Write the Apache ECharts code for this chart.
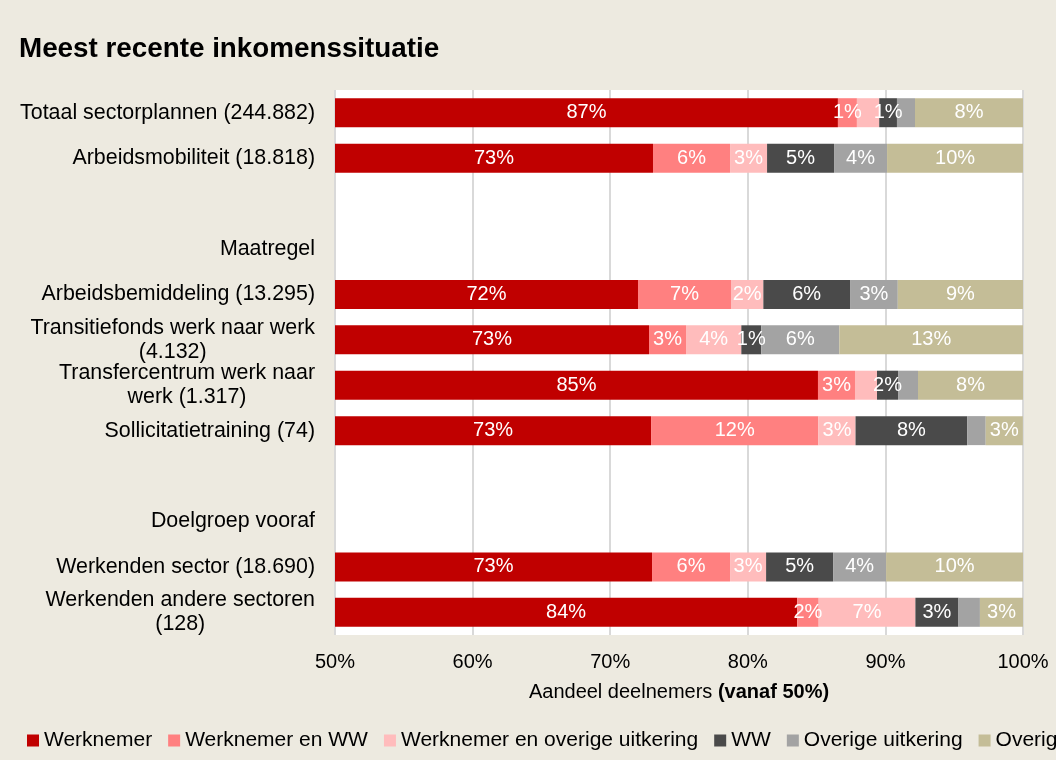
<!DOCTYPE html>
<html>
<head>
<meta charset="utf-8">
<title>Meest recente inkomenssituatie</title>
<script src="https://cdn.jsdelivr.net/npm/echarts@6/dist/echarts.min.js"></script>
<style>
html, body { margin: 0; padding: 0; background: #EDEAE0; }
#chart { width: 1056px; height: 760px; }
</style>
</head>
<body>
<div id="chart"></div>
<script>
// rijen van boven naar beneden, lege rijen en kopjes zonder data
const categories = [
  'Totaal sectorplannen (244.882)',
  'Arbeidsmobiliteit (18.818)',
  '',
  'Maatregel',
  'Arbeidsbemiddeling (13.295)',
  'Transitiefonds werk naar werk\n(4.132)',
  'Transfercentrum werk naar\nwerk (1.317)',
  'Sollicitatietraining (74)',
  '',
  'Doelgroep vooraf',
  'Werkenden sector (18.690)',
  'Werkenden andere sectoren\n(128)'
];
const werknemer        = [86.55, 73.11, null, null, 72.02, 72.82, 85.10, 72.97, null, null, 73.04, 83.59];
const werknemerWW      = [1.38, 5.60, null, null, 6.76, 2.69, 2.69, 12.16, null, null, 5.67, 1.56];
const werknemerOverig  = [1.62, 2.69, null, null, 2.35, 4.02, 1.60, 2.70, null, null, 2.62, 7.03];
const ww               = [1.29, 4.87, null, null, 6.30, 1.45, 1.53, 8.11, null, null, 4.87, 3.13];
const overigeUitkering = [1.31, 3.85, null, null, 3.47, 5.67, 1.45, 1.35, null, null, 3.85, 1.56];
const overig           = [7.85, 9.88, null, null, 9.10, 13.35, 7.63, 2.70, null, null, 9.96, 3.13];
const xTicks = [50, 60, 70, 80, 90, 100];

// rijen waar in het origineel geen label staat
const noLabel = {
  'Werknemer en overige uitkering': [0, 6],
  'Overige uitkering': [0, 6, 7, 11]
};

const font = '"Liberation Sans", Arial, sans-serif';
const chart = echarts.init(document.getElementById('chart'));

const mkSeries = (name, data, color) => ({
  name: name,
  type: 'bar',
  stack: 'totaal',
  data: data,
  barWidth: 29,
  itemStyle: { color: color },
  label: {
    show: true,
    position: 'inside',
    color: '#fff',
    fontSize: 20,
    fontFamily: font,
    formatter: (p) => {
      const skip = noLabel[name];
      if (skip && skip.indexOf(p.dataIndex) >= 0) return '';
      return Math.round(p.value) + '%';
    }
  }
});

const option = {
  backgroundColor: '#EDEAE0',
  animation: false,
  title: {
    text: 'Meest recente inkomenssituatie',
    left: 14,
    top: 30,
    textStyle: { fontSize: 27.8, fontWeight: 'bold', color: '#000', fontFamily: font }
  },
  legend: {
    left: 22,
    top: 725,
    width: 1600,
    itemWidth: 12,
    itemHeight: 12,
    itemGap: 16,
    icon: 'rect',
    textStyle: { fontSize: 21, color: '#000', fontFamily: font },
    data: ['Werknemer', 'Werknemer en WW', 'Werknemer en overige uitkering', 'WW', 'Overige uitkering', 'Overig*']
  },
  grid: {
    left: 335,
    right: 33,
    top: 90,
    bottom: 125,
    show: true,
    backgroundColor: '#fff',
    borderWidth: 0
  },
  xAxis: {
    type: 'value',
    min: xTicks[0],
    max: xTicks[xTicks.length - 1],
    interval: 10,
    axisLine: { show: false },
    axisTick: { show: false },
    splitLine: { show: true, lineStyle: { color: '#D9D9D9', width: 2 } },
    axisLabel: {
      margin: 17,
      fontSize: 20,
      color: '#000',
      fontFamily: font,
      formatter: '{value}%'
    },
    name: 'Aandeel deelnemers {b|(vanaf 50%)}',
    nameLocation: 'middle',
    nameGap: 47,
    nameTextStyle: {
      fontSize: 20,
      color: '#000',
      fontFamily: font,
      rich: { b: { fontSize: 20, fontWeight: 'bold', color: '#000', fontFamily: font } }
    }
  },
  yAxis: {
    type: 'category',
    inverse: true,
    data: categories,
    axisLine: { show: false },
    axisTick: { show: false },
    splitLine: { show: false },
    axisLabel: {
      margin: 20,
      fontSize: 21.4,
      color: '#000',
      fontFamily: font,
      lineHeight: 24,
      formatter: (v) => {
        const lines = v.split('\n');
        if (lines.length === 1) return v;
        return lines.map(l => '{c|' + l + '}').join('\n');
      },
      rich: {
        c: { align: 'center', fontSize: 21.4, lineHeight: 24, color: '#000', fontFamily: font }
      }
    }
  },
  series: [
    mkSeries('Werknemer', werknemer, '#C00000'),
    mkSeries('Werknemer en WW', werknemerWW, '#FF8080'),
    mkSeries('Werknemer en overige uitkering', werknemerOverig, '#FFBCBC'),
    mkSeries('WW', ww, '#4A4A4A'),
    mkSeries('Overige uitkering', overigeUitkering, '#A3A3A3'),
    mkSeries('Overig*', overig, '#C4BD97')
  ]
};

chart.setOption(option);
</script>
</body>
</html>
